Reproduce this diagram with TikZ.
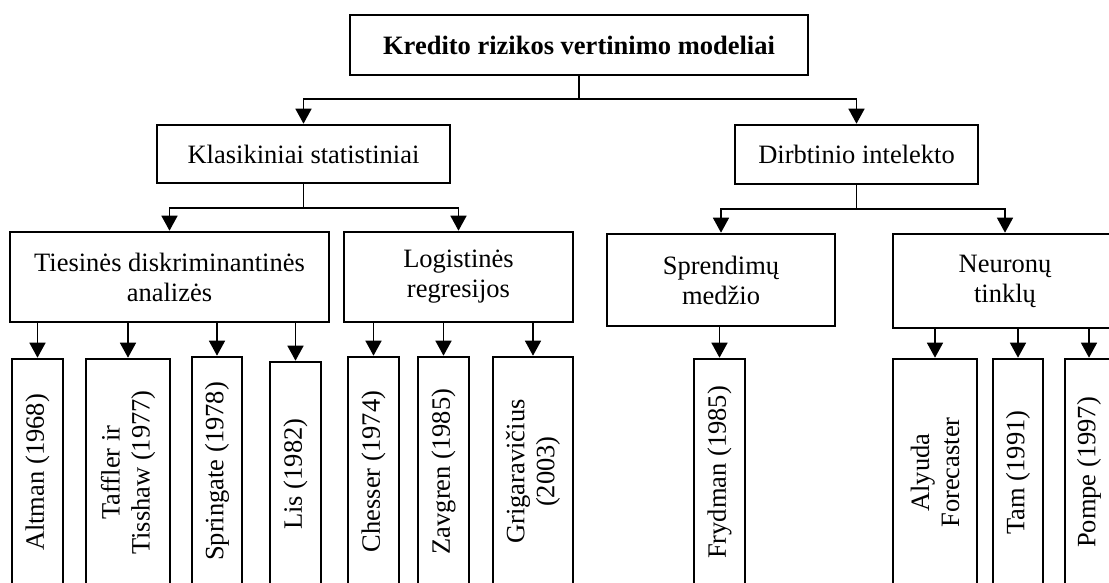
\documentclass[tikz,border=0pt]{standalone}
\usepackage{fontspec}
\setmainfont{Liberation Serif}
\usetikzlibrary{arrows.meta}
\begin{document}
\begin{tikzpicture}[x=1pt,y=-1pt,
  box/.style={draw, line width=2.6pt, rectangle, inner sep=2pt, align=center,
    font=\fontsize{26.5}{30}\selectfont},
  leaf/.style={box, rotate=90},
  conn/.style={line width=1.5pt},
  arr/.style={conn, -{Triangle[width=16pt,length=15pt]}}]
\useasboundingbox (0,0) rectangle (1109,582);
\clip (0,0) rectangle (1109,582);
% top
\node[box, font=\fontsize{26.5}{30}\selectfont\bfseries, minimum width=458, minimum height=60] (top) at (579,45) {Kredito rizikos vertinimo modeliai};
% level 1
\node[box, minimum width=293, minimum height=58] (klas) at (303.5,154) {Klasikiniai statistiniai};
\node[box, minimum width=243, minimum height=59] (dirb) at (856.5,154.5) {Dirbtinio intelekto};
% level 2
\node[box, minimum width=319, minimum height=90] (ties) at (169.5,277) {Tiesinės diskriminantinės\\analizės};
\node[box, minimum width=229, minimum height=90] (logi) at (458.5,277) {Logistinės\\regresijos};
\node[box, minimum width=228, minimum height=92] (spre) at (721,280) {Sprendimų\\medžio};
\node[box, minimum width=224, minimum height=94] (neur) at (1005,281) {Neuronų\\tinklų};
% leaves
\node[leaf, minimum width=227, minimum height=51] (altman) at (37.5,472.5) {Altman (1968)};
\node[leaf, minimum width=227, minimum height=84] (taffler) at (128,472.5) {Taffler ir\\Tisshaw (1977)};
\node[leaf, minimum width=229, minimum height=50] (spring) at (217,471.5) {Springate (1978)};
\node[leaf, minimum width=224, minimum height=51] (lis) at (295.5,474) {Lis (1982)};
\node[leaf, minimum width=229, minimum height=51] (chesser) at (373.5,471.5) {Chesser (1974)};
\node[leaf, minimum width=229, minimum height=51] (zavgren) at (443.5,471.5) {Zavgren (1985)};
\node[leaf, minimum width=229, minimum height=80] (grig) at (533,471.5) {Grigaravičius\\(2003)};
\node[leaf, minimum width=227, minimum height=51] (frydman) at (719.5,472.5) {Frydman (1985)};
\node[leaf, minimum width=227, minimum height=84] (alyuda) at (935,472.5) {Alyuda\\Forecaster};
\node[leaf, minimum width=227, minimum height=50] (tam) at (1018,472.5) {Tam (1991)};
\node[leaf, minimum width=227, minimum height=48] (pompe) at (1089,472.5) {Pompe (1997)};
% connectors top
\coordinate (tj) at (579,99);
\draw[conn] (top.south) -- (tj);
\draw[arr] (tj) -| (klas.north);
\draw[arr] (tj) -| (dirb.north);
\coordinate (kj) at (303.5,208);
\draw[conn] (klas.south) -- (kj);
\draw[arr] (kj) -| (ties.north);
\draw[arr] (kj) -| (logi.north);
\coordinate (dj) at (856.5,209);
\draw[conn] (dirb.south) -- (dj);
\draw[arr] (dj) -| (spre.north);
\draw[arr] (dj) -| (neur.north);
% leaf connectors
\foreach \p/\l in {ties/altman, ties/taffler, ties/spring, ties/lis,
                   logi/chesser, logi/zavgren, logi/grig,
                   spre/frydman,
                   neur/alyuda, neur/tam, neur/pompe}
  \draw[arr] (\p.south -| \l.east) -- (\l.east);
\end{tikzpicture}
\end{document}
